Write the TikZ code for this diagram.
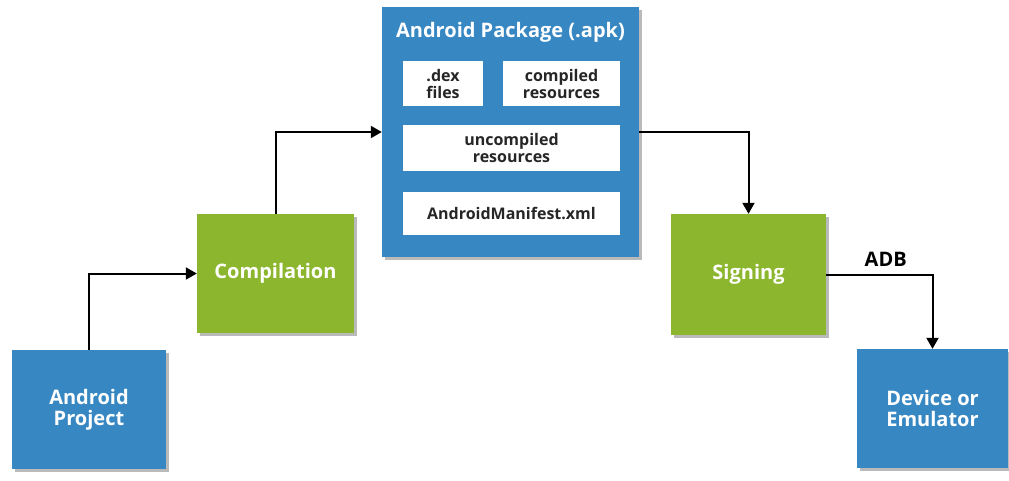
\documentclass[tikz,border=0pt]{standalone}
\usepackage{fontspec}
\setmainfont{Open Sans}
\usepackage{tikz}
\usetikzlibrary{arrows.meta,shadows}

\definecolor{pkgblue}{RGB}{55,135,195}
\definecolor{stepgreen}{RGB}{140,182,45}

\begin{document}
\begin{tikzpicture}[x=1pt,y=-1pt,
        box/.style={draw=none, text=white, font=\fontsize{20}{21}\selectfont\bfseries,
            align=center, inner sep=0pt,
            drop shadow={shadow xshift=3pt, shadow yshift=-3pt, fill=black!45, opacity=0.6}},
        bluebox/.style={box, fill=pkgblue},
        greenbox/.style={box, fill=stepgreen},
        part/.style={fill=white, text=black!85, font=\fontsize{16}{17}\selectfont\bfseries,
            align=center, inner sep=0pt},
        arr/.style={line width=2pt, -{Triangle[width=12pt,length=11pt]}}]
        \useasboundingbox (0,0) rectangle (1009,480);

        \node[bluebox, minimum width=154pt, minimum height=119pt] (proj) at (89,409.5) {Android\\Project};
        \node[greenbox, minimum width=157pt, minimum height=119pt] (comp) at (275.5,273.5) {Compilation};
        \node[bluebox, minimum width=257pt, minimum height=250pt] (apk) at (510.5,132) {};
        \node[greenbox, minimum width=155pt, minimum height=121pt] (sign) at (748.5,274.5) {Signing};
        \node[bluebox, minimum width=151pt, minimum height=119pt] (dev) at (932.5,408.5) {Device or\\Emulator};

        % contents of the package
        \node[text=white, font=\fontsize{20}{21}\selectfont\bfseries] (apktitle) at (510.5,32) {Android Package (.apk)};
        \node[part, minimum width=80pt, minimum height=45pt] (dex) at (443,83.5) {.dex\\files};
        \node[part, minimum width=117pt, minimum height=45pt] (cres) at (561.5,83.5) {compiled\\resources};
        \node[part, minimum width=217pt, minimum height=46pt] (ures) at (511.5,148) {uncompiled\\resources};
        \node[part, minimum width=217pt, minimum height=43pt] (mani) at (511.5,213.5) {AndroidManifest.xml};

        \draw[arr] (proj.north) |- (comp.west);
        \draw[arr] (comp.north) |- (apk.west);
        \draw[arr] (apk.east) -| (sign.north);
        \draw[arr] (sign.east) -| node[pos=0.28, above=4pt, font=\fontsize{20}{21}\selectfont\bfseries] (adb) {ADB} (dev.north);
\end{tikzpicture}
\end{document}
